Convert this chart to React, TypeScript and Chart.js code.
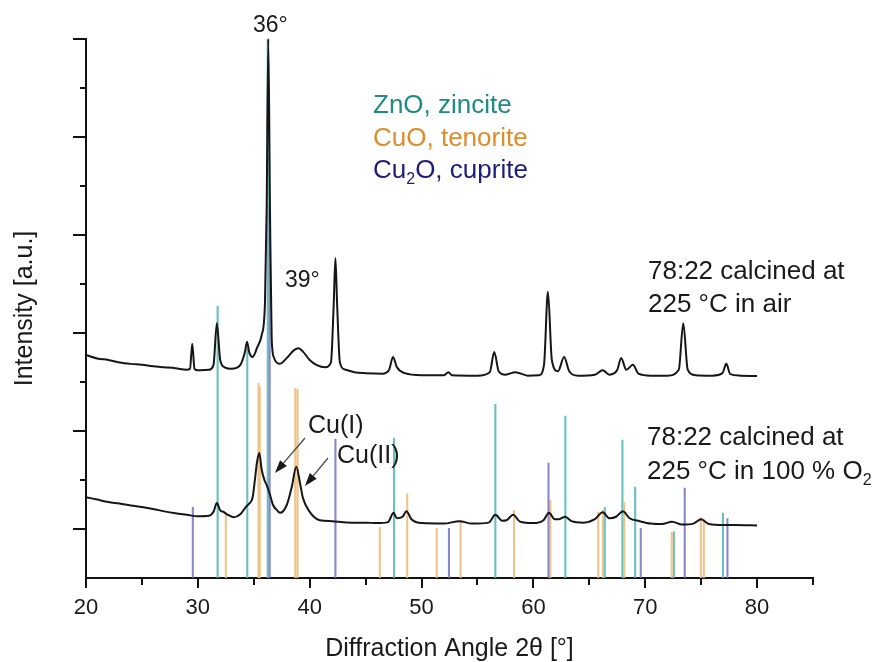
import React, { useEffect, useRef } from "react";
import { Chart, registerables } from "chart.js";

Chart.register(...registerables);

const FONT = '"Liberation Sans", Arial, Helvetica, sans-serif';

// Sample: 78:22 calcined at 225 °C in air (upper pattern)
const airAngle = [
  20, 21, 22, 23, 24, 25, 26, 27, 28, 29, 29.3, 29.5, 29.7, 30, 31, 31.4, 31.7, 32.0, 32.4, 33,
  33.8, 34.2, 34.4, 34.6, 34.9, 35.3, 35.7, 36.0, 36.15, 36.3, 36.45, 36.6, 36.8, 37.3, 38.0, 38.6,
  39.0, 39.4, 40.0, 40.6, 41.4, 41.9, 42.15, 42.3, 42.45, 42.7, 43.2, 44, 45, 46.5, 47.1, 47.45,
  47.8, 48.5, 50, 52, 52.4, 52.7, 55, 56.1, 56.5, 56.9, 57.5, 58.4, 59.5, 60.5, 60.95, 61.3,
  61.65, 62.2, 62.75, 63.2, 64, 65.5, 66.2, 66.8, 67.5, 67.85, 68.3, 68.9, 69.4, 70.5, 72, 73.0,
  73.4, 73.8, 74.5, 76, 76.9, 77.25, 77.6, 78.5, 80,
];
const airIntensity = [
  4.55, 4.48, 4.45, 4.4, 4.37, 4.35, 4.32, 4.3, 4.28, 4.25, 4.27, 4.78, 4.27, 4.24, 4.25, 4.35, 5.2, 4.45, 4.3, 4.27,
  4.35, 4.6, 4.82, 4.6, 4.51, 4.7, 4.95, 5.6, 7.5, 11.0, 7.5, 4.9, 4.5, 4.37, 4.5, 4.65,
  4.69, 4.62, 4.45, 4.35, 4.3, 4.4, 5.6, 6.53, 5.6, 4.4, 4.25, 4.2, 4.18, 4.17, 4.25, 4.51,
  4.3, 4.18, 4.14, 4.14, 4.2, 4.14, 4.13, 4.2, 4.61, 4.22, 4.15, 4.2, 4.13, 4.14, 4.35, 5.84,
  4.45, 4.22, 4.51, 4.22, 4.13, 4.15, 4.24, 4.15, 4.25, 4.49, 4.25, 4.35, 4.17, 4.13, 4.13, 4.25,
  5.2, 4.25, 4.14, 4.13, 4.18, 4.37, 4.16, 4.13, 4.12,
];

// Sample: 78:22 calcined at 225 °C in 100 % O2 (lower pattern)
const oxyAngle = [
  20, 21, 22, 23, 24, 25, 26, 27, 28, 29, 30, 31, 31.4, 31.7, 32.0, 32.3, 32.6, 33.2, 33.8, 34.3,
  34.5, 34.9, 35.1, 35.3, 35.5, 35.7, 35.95, 36.15, 36.45, 36.7, 37.05, 37.35, 37.95, 38.4, 38.8,
  39.15, 39.4, 40.0, 40.9, 42, 43, 44, 45, 46, 47, 47.5, 47.8, 48.3, 48.65, 49.1, 50, 52, 53.4,
  54.5, 56, 56.6, 57.2, 57.6, 58.2, 58.8, 60, 60.9, 61.4, 61.9, 62.3, 62.85, 63.4, 64.5, 65.5,
  66.2, 66.8, 67.4, 68.0, 68.6, 69.5, 70.5, 71.5, 72.4, 73.3, 74.3, 75.0, 75.7, 77, 78, 80,
];
const oxyIntensity = [
  1.65, 1.6, 1.55, 1.52, 1.48, 1.45, 1.41, 1.36, 1.32, 1.29, 1.26, 1.27, 1.35, 1.53, 1.38, 1.35, 1.3, 1.24, 1.3, 1.45,
  1.5, 1.65, 2.0, 2.38, 2.55, 2.22, 2.0, 1.9, 1.7, 1.5, 1.39, 1.33, 1.49, 1.86, 2.27,
  1.92, 1.63, 1.35, 1.18, 1.16, 1.14, 1.13, 1.13, 1.12, 1.14, 1.33, 1.22, 1.25, 1.36, 1.2, 1.12, 1.11, 1.16,
  1.11, 1.13, 1.29, 1.17, 1.18, 1.29, 1.15, 1.12, 1.18, 1.33, 1.2, 1.2, 1.25, 1.16, 1.13, 1.2,
  1.34, 1.22, 1.25, 1.36, 1.22, 1.16, 1.11, 1.1, 1.15, 1.09, 1.11, 1.2, 1.1, 1.08, 1.08, 1.07,
];

// Reference stick patterns
const zinciteAngle = [31.77, 34.42, 36.25, 47.54, 56.6, 62.86, 66.38, 67.96, 69.1, 72.56, 76.95];
const zinciteIntensity = [5.55, 4.7, 11.0, 2.86, 3.55, 3.31, 1.45, 2.82, 1.86, 0.95, 1.33];

const tenoriteAngle = [32.5, 35.42, 35.54, 38.71, 38.92, 46.27, 48.72, 51.35, 53.49, 58.27, 61.52, 65.8, 66.22, 68.12, 72.37, 74.97, 75.24];
const tenoriteIntensity = [1.3, 3.98, 3.9, 3.88, 3.85, 1.04, 1.73, 1.02, 1.16, 1.39, 1.59, 1.35, 1.39, 1.55, 0.94, 1.24, 1.2];

const cupriteAngle = [29.55, 36.42, 42.3, 52.45, 61.35, 69.6, 73.53, 77.35];
const cupriteIntensity = [1.45, 7.6, 2.84, 1.02, 2.35, 1.02, 1.84, 1.22];

// Axes
const xTickValues = [20, 25, 30, 35, 40, 45, 50, 55, 60, 65, 70, 75, 80, 85];
const xTickLabels = [20, 30, 40, 50, 60, 70, 80];
const yTickValues = [1, 2, 3, 4, 5, 6, 7, 8, 9, 10, 11];

const TEXT = "#1a1a1a";

function curve(xs: number[], ys: number[]) {
  return xs.map((x, i) => ({ x, y: ys[i] }));
}

function sticks(xs: number[], hs: number[]) {
  const out: { x: number; y: number | null }[] = [];
  xs.forEach((x, i) => {
    out.push({ x, y: 0 }, { x, y: hs[i] }, { x, y: null });
  });
  return out;
}

type Part = { t: string; sub?: boolean };

function drawParts(ctx: CanvasRenderingContext2D, parts: Part[], x: number, y: number, size: number, color: string) {
  let cx = x;
  ctx.fillStyle = color;
  ctx.textAlign = "left";
  ctx.textBaseline = "alphabetic";
  parts.forEach((p) => {
    const s = p.sub ? Math.round(size * 0.6) : size;
    ctx.font = `${s}px ${FONT}`;
    ctx.fillText(p.t, cx, p.sub ? y + size * 0.22 : y);
    cx += ctx.measureText(p.t).width;
  });
}

function arrow(ctx: CanvasRenderingContext2D, x1: number, y1: number, x2: number, y2: number) {
  const ang = Math.atan2(y2 - y1, x2 - x1);
  const head = 13;
  const half = 4.5;
  const bx = x2 - head * Math.cos(ang);
  const by = y2 - head * Math.sin(ang);
  ctx.strokeStyle = "#4a4a4a";
  ctx.fillStyle = "#1a1a1a";
  ctx.lineWidth = 1.3;
  ctx.beginPath();
  ctx.moveTo(x1, y1);
  ctx.lineTo(bx, by);
  ctx.stroke();
  ctx.beginPath();
  ctx.moveTo(x2, y2);
  ctx.lineTo(bx + half * Math.sin(ang), by - half * Math.cos(ang));
  ctx.lineTo(bx - half * Math.sin(ang), by + half * Math.cos(ang));
  ctx.closePath();
  ctx.fill();
}

const decorPlugin = {
  id: "decor",
  afterDraw(chart: any) {
    const { ctx, chartArea, scales } = chart;
    const xs = scales.x;
    const ys = scales.y;
    ctx.save();
    // tick marks
    ctx.strokeStyle = "#111";
    ctx.lineWidth = 2;
    yTickValues.forEach((v) => {
      const py = Math.round(ys.getPixelForValue(v));
      const len = v % 2 === 1 ? 13 : 6;
      ctx.beginPath();
      ctx.moveTo(chartArea.left - len, py);
      ctx.lineTo(chartArea.left, py);
      ctx.stroke();
    });
    xTickValues.forEach((v) => {
      const px = Math.round(xs.getPixelForValue(v));
      const len = v % 10 === 0 ? 10 : 7;
      ctx.beginPath();
      ctx.moveTo(px, chartArea.bottom);
      ctx.lineTo(px, chartArea.bottom + len);
      ctx.stroke();
    });

    // peak labels
    drawParts(ctx, [{ t: "36°" }], 253, 32, 23, TEXT);
    drawParts(ctx, [{ t: "39°" }], 285, 287, 23, TEXT);

    // phase legend
    drawParts(ctx, [{ t: "ZnO, zincite" }], 373, 113, 26, "#1f8c84");
    drawParts(ctx, [{ t: "CuO, tenorite" }], 373, 146, 26, "#e08b2c");
    drawParts(ctx, [{ t: "Cu" }, { t: "2", sub: true }, { t: "O, cuprite" }], 373, 178, 26, "#1c1c7c");

    // sample labels
    drawParts(ctx, [{ t: "78:22 calcined at" }], 648, 279, 26, TEXT);
    drawParts(ctx, [{ t: "225 °C in air" }], 648, 312, 26, TEXT);
    drawParts(ctx, [{ t: "78:22 calcined at" }], 647, 445, 26, TEXT);
    drawParts(ctx, [{ t: "225 °C in 100 % O" }, { t: "2", sub: true }], 647, 479, 26, TEXT);

    // Cu(I) / Cu(II) arrows
    drawParts(ctx, [{ t: "Cu(I)" }], 308, 433, 25, TEXT);
    drawParts(ctx, [{ t: "Cu(II)" }], 337, 463, 25, TEXT);
    arrow(ctx, 305, 438, 275, 473);
    arrow(ctx, 328, 458, 305, 486);
    ctx.restore();
  },
};

export default function App() {
  const ref = useRef<HTMLCanvasElement>(null);

  useEffect(() => {
    if (!ref.current) return;
    const curveStyle = {
      borderColor: "#161616",
      borderWidth: 2,
      pointRadius: 0,
      cubicInterpolationMode: "monotone",
      clip: false,
      order: 0,
    };
    const stickStyle = { borderWidth: 2.1, pointRadius: 0, spanGaps: false, clip: false };
    const chart = new Chart(ref.current, {
      type: "line",
      data: {
        datasets: [
          { label: "78:22 calcined at 225 °C in air", data: curve(airAngle, airIntensity), ...curveStyle },
          { label: "78:22 calcined at 225 °C in 100 % O2", data: curve(oxyAngle, oxyIntensity), ...curveStyle },
          {
            label: "ZnO, zincite",
            data: sticks(zinciteAngle, zinciteIntensity),
            borderColor: "rgba(88,186,182,0.9)",
            ...stickStyle,
            order: 3,
          },
          {
            label: "CuO, tenorite",
            data: sticks(tenoriteAngle, tenoriteIntensity),
            borderColor: "rgba(238,188,125,0.9)",
            ...stickStyle,
            order: 2,
          },
          {
            label: "Cu2O, cuprite",
            data: sticks(cupriteAngle, cupriteIntensity),
            borderColor: "rgba(115,115,200,0.85)",
            ...stickStyle,
            order: 1,
          },
        ],
      },
      options: {
        responsive: false,
        animation: false,
        devicePixelRatio: 1,
        layout: { padding: { left: 10, top: 39, right: 62, bottom: 0 } },
        plugins: { legend: { display: false }, tooltip: { enabled: false } },
        elements: { line: { borderJoinStyle: "round" } },
        scales: {
          x: {
            type: "linear",
            min: 20,
            max: 85,
            afterFit: (s: any) => {
              s.height = 84;
            },
            afterBuildTicks: (s: any) => {
              s.ticks = xTickValues.map((v) => ({ value: v }));
            },
            grid: { display: false, drawTicks: false },
            border: { display: true, color: "#111", width: 2 },
            ticks: {
              padding: 17,
              autoSkip: false,
              maxRotation: 0,
              color: TEXT,
              font: { family: FONT, size: 22 },
              callback: (v: any) => (xTickLabels.includes(Number(v)) ? String(v) : ""),
            },
            title: {
              display: true,
              text: "Diffraction Angle 2θ [°]",
              color: TEXT,
              font: { family: FONT, size: 25, lineHeight: 1.0 },
              padding: { top: 0, bottom: 0 },
            },
          },
          y: {
            type: "linear",
            min: 0,
            max: 11,
            afterFit: (s: any) => {
              s.width = 76;
            },
            grid: { display: false, drawTicks: false },
            border: { display: true, color: "#111", width: 2 },
            ticks: { display: false, stepSize: 1 },
            title: {
              display: true,
              text: "Intensity [a.u.]",
              color: TEXT,
              font: { family: FONT, size: 25, lineHeight: 1.2 },
              padding: { top: 0, bottom: 0 },
            },
          },
        },
      },
      plugins: [decorPlugin],
    } as any);
    return () => chart.destroy();
  }, []);

  return (
    <div style={{ position: "fixed", left: 0, top: 0, width: 875, height: 662, background: "#fff" }}>
      <canvas ref={ref} width={875} height={662} style={{ width: 875, height: 662, display: "block" }} />
    </div>
  );
}
